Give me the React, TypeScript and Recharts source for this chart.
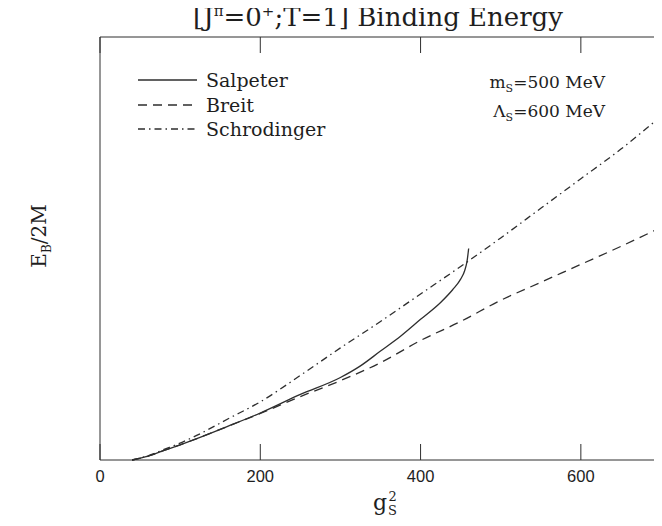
import React from 'react';
import { LineChart, Line, XAxis, YAxis, ReferenceLine } from 'recharts';

const salpeterG = [40, 60, 80, 100, 120, 160, 200, 250, 300, 325, 350, 375, 400, 425, 440, 450, 455, 458, 460];
const salpeterE = [0, 0.018, 0.045, 0.072, 0.1, 0.16, 0.222, 0.31, 0.39, 0.445, 0.515, 0.585, 0.665, 0.745, 0.805, 0.855, 0.895, 0.94, 1.0];

const breitG = [40, 60, 80, 100, 120, 160, 200, 250, 300, 350, 400, 450, 500, 550, 600, 650, 700];
const breitE = [0, 0.018, 0.045, 0.072, 0.1, 0.16, 0.22, 0.3, 0.375, 0.46, 0.565, 0.655, 0.755, 0.84, 0.925, 1.01, 1.1];

const schrodingerG = [40, 60, 80, 100, 120, 160, 200, 250, 300, 350, 400, 450, 500, 550, 600, 650, 700];
const schrodingerE = [0, 0.02, 0.05, 0.08, 0.115, 0.195, 0.275, 0.4, 0.53, 0.655, 0.785, 0.915, 1.05, 1.19, 1.33, 1.47, 1.625];

const xMinorTicks = [40, 80, 120, 160, 240, 280, 320, 360, 440, 480, 520, 560, 640, 680];
const xMajorTicks = [0, 200, 400, 600];
const yMinorTicks = [0.1, 0.2, 0.3, 0.4, 0.6, 0.7, 0.8, 0.9, 1.1, 1.2, 1.3, 1.4, 1.6, 1.7, 1.8, 1.9];
const yMajorTicks = [0, 0.5, 1.0, 1.5, 2.0];

const seriesNames = ['Salpeter', 'Breit', 'Schrodinger'];

const build = (g: number[], e: number[]) => g.map((x, i) => ({ g: x, e: e[i] }));
const salpeterData = build(salpeterG, salpeterE);
const breitData = build(breitG, breitE);
const schrodingerData = build(schrodingerG, schrodingerE);

const INK = '#2e2e2e';
const MAJOR = 16;
const MINOR = 6;
const SW = 1.3;
const DASH = '9 6';
const DASHDOT = '7 4 1.5 4';

const CHART_W = 654;
const CHART_H = 518;
const Y_AXIS_W = 92;
const X_AXIS_H = 66;
const PLOT_TOP = 29;
const PLOT_RIGHT_GAP = 1;
const PLOT_W = CHART_W - Y_AXIS_W - PLOT_RIGHT_GAP;
const PLOT_H = CHART_H - PLOT_TOP - X_AXIS_H;
const X_MAX = 700;
const Y_MAX = 2;
const dx = (px: number) => (px * X_MAX) / PLOT_W;
const dy = (px: number) => (px * Y_MAX) / PLOT_H;

const tickFont = {
  fontFamily: '"Liberation Sans", Arial, sans-serif',
  fontSize: 16.5,
  fill: '#1e1e1e',
};

const BottomLabel = (props: any) => {
  const { x, y, payload } = props;
  return (
    <text x={x} y={y} textAnchor="middle" dominantBaseline="central" {...tickFont}>
      {payload.value}
    </text>
  );
};

const LeftLabel = (props: any) => {
  const { x, y, payload } = props;
  return (
    <text x={x} y={y} textAnchor="end" dominantBaseline="central" {...tickFont}>
      {Number(payload.value).toFixed(1)}
    </text>
  );
};

const NoLabel = () => <g />;

const serif = '"DejaVu Serif", "Liberation Serif", serif';

const textBase: any = {
  position: 'absolute',
  whiteSpace: 'nowrap',
  fontFamily: serif,
  color: '#1e1e1e',
  lineHeight: 1,
};

function FrameChart() {
  const segs: any[] = [];
  xMinorTicks.forEach((v) => {
    segs.push(<ReferenceLine key={`b${v}`} segment={[{ x: v, y: 0 }, { x: v, y: dy(MINOR) }]} stroke={INK} strokeWidth={SW} />);
    segs.push(<ReferenceLine key={`t${v}`} segment={[{ x: v, y: Y_MAX }, { x: v, y: Y_MAX - dy(MINOR) }]} stroke={INK} strokeWidth={SW} />);
  });
  xMajorTicks.forEach((v) => {
    segs.push(<ReferenceLine key={`B${v}`} segment={[{ x: v, y: 0 }, { x: v, y: dy(MAJOR) }]} stroke={INK} strokeWidth={SW} />);
    segs.push(<ReferenceLine key={`T${v}`} segment={[{ x: v, y: Y_MAX }, { x: v, y: Y_MAX - dy(MAJOR) }]} stroke={INK} strokeWidth={SW} />);
  });
  yMinorTicks.forEach((v) => {
    segs.push(<ReferenceLine key={`l${v}`} segment={[{ x: 0, y: v }, { x: dx(MINOR), y: v }]} stroke={INK} strokeWidth={SW} />);
    segs.push(<ReferenceLine key={`r${v}`} segment={[{ x: X_MAX, y: v }, { x: X_MAX - dx(MINOR), y: v }]} stroke={INK} strokeWidth={SW} />);
  });
  yMajorTicks.forEach((v) => {
    segs.push(<ReferenceLine key={`L${v}`} segment={[{ x: 0, y: v }, { x: dx(MAJOR), y: v }]} stroke={INK} strokeWidth={SW} />);
    segs.push(<ReferenceLine key={`R${v}`} segment={[{ x: X_MAX, y: v }, { x: X_MAX - dx(MAJOR), y: v }]} stroke={INK} strokeWidth={SW} />);
  });

  return (
    <LineChart width={CHART_W} height={CHART_H} data={schrodingerData} margin={{ top: PLOT_TOP - 1, right: 0, left: 0, bottom: 0 }}>
      <XAxis
        dataKey="g"
        type="number"
        domain={[0, X_MAX]}
        ticks={xMajorTicks}
        tickSize={-MAJOR}
        tickMargin={MAJOR + 16}
        stroke={INK}
        height={X_AXIS_H}
        tick={<BottomLabel />}
      />
      <XAxis
        xAxisId="top"
        orientation="top"
        dataKey="g"
        type="number"
        domain={[0, X_MAX]}
        ticks={xMajorTicks}
        tickSize={-MAJOR}
        stroke={INK}
        height={1}
        tick={<NoLabel />}
      />
      <YAxis
        type="number"
        domain={[0, Y_MAX]}
        ticks={yMajorTicks}
        tickSize={-MAJOR}
        tickMargin={MAJOR + 7}
        stroke={INK}
        width={Y_AXIS_W}
        tick={<LeftLabel />}
      />
      <YAxis
        yAxisId="right"
        orientation="right"
        type="number"
        domain={[0, Y_MAX]}
        ticks={yMajorTicks}
        tickSize={-MAJOR}
        stroke={INK}
        width={1}
        tick={<NoLabel />}
      />
      <ReferenceLine x={X_MAX} stroke={INK} strokeWidth={SW} ifOverflow="visible" />
      <ReferenceLine y={Y_MAX} stroke={INK} strokeWidth={SW} ifOverflow="visible" />
      {segs}
    </LineChart>
  );
}

function SeriesChart() {
  return (
    <LineChart
      width={CHART_W}
      height={CHART_H}
      data={schrodingerData}
      margin={{ top: PLOT_TOP, right: PLOT_RIGHT_GAP, left: Y_AXIS_W, bottom: X_AXIS_H }}
    >
      <XAxis dataKey="g" type="number" domain={[0, X_MAX]} hide />
      <YAxis type="number" domain={[0, Y_MAX]} hide />
      <Line name={seriesNames[0]} data={salpeterData} dataKey="e" type="monotone" stroke={INK} strokeWidth={SW} dot={false} isAnimationActive={false} />
      <Line name={seriesNames[1]} data={breitData} dataKey="e" type="monotone" stroke={INK} strokeWidth={SW} strokeDasharray={DASH} dot={false} isAnimationActive={false} />
      <Line name={seriesNames[2]} dataKey="e" type="monotone" stroke={INK} strokeWidth={SW} strokeDasharray={DASHDOT} dot={false} isAnimationActive={false} />
    </LineChart>
  );
}

export default function App() {
  const dashes = [undefined, DASH, DASHDOT];
  return (
    <div style={{ position: 'relative', width: CHART_W, height: CHART_H, overflow: 'hidden' }}>
      <div style={{ ...textBase, left: 86, width: 568, top: -4, textAlign: 'center', fontSize: 26 }}>
        [J<sup style={{ fontSize: 15 }}>π</sup>=0<sup style={{ fontSize: 15 }}>+</sup>;T=1] Binding Energy
      </div>

      <div style={{ position: 'absolute', left: 130, top: 60, fontFamily: serif, fontSize: 19, color: '#1e1e1e' }}>
        {seriesNames.map((name, i) => (
          <div key={name} style={{ display: 'flex', alignItems: 'center', height: 24.5 }}>
            <svg width={60} height={10} style={{ display: 'block' }}>
              <line x1={0} x2={59} y1={5} y2={5} stroke={INK} strokeWidth={SW} strokeDasharray={dashes[i]} />
            </svg>
            <span style={{ marginLeft: 8, lineHeight: '24px' }}>{name}</span>
          </div>
        ))}
      </div>

      <div style={{ ...textBase, right: 57, top: 66, fontSize: 17 }}>
        m<sub style={{ fontSize: 11 }}>S</sub>=500 MeV
      </div>
      <div style={{ ...textBase, right: 57, top: 95, fontSize: 17 }}>
        Λ<sub style={{ fontSize: 11 }}>S</sub>=600 MeV
      </div>

      <div
        style={{
          ...textBase,
          left: 33,
          top: 228,
          transform: 'translate(-50%, -50%) rotate(-90deg)',
          fontSize: 20,
        }}
      >
        E<sub style={{ fontSize: 12 }}>B</sub>/2M
      </div>

      <div style={{ ...textBase, left: 100, width: 554, top: 482, textAlign: 'center', fontSize: 22 }}>
        g
        <span
          style={{
            display: 'inline-flex',
            flexDirection: 'column',
            verticalAlign: 'middle',
            fontSize: 13,
            lineHeight: '14px',
            marginLeft: 1,
          }}
        >
          <span>2</span>
          <span>S</span>
        </span>
      </div>

      <div style={{ position: 'absolute', left: 0, top: 0 }}>
        <FrameChart />
      </div>
      <div style={{ position: 'absolute', left: 0, top: 0 }}>
        <SeriesChart />
      </div>
    </div>
  );
}
